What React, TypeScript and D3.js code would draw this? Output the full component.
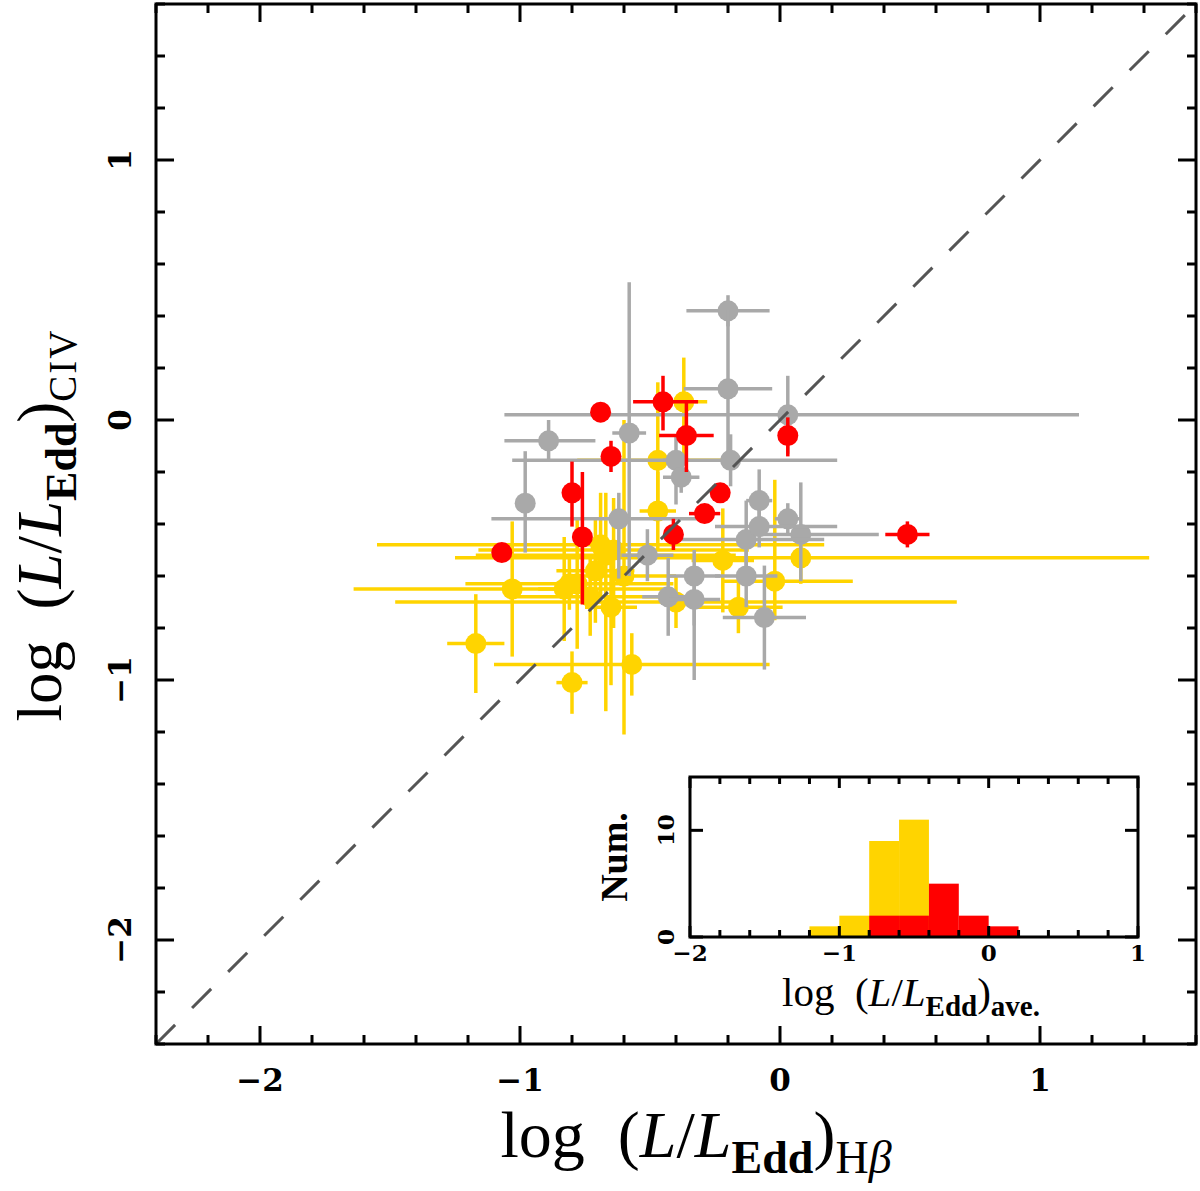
import React from "react";
import * as d3 from "d3";

// [x, y, xErrMinus, xErrPlus, yErrMinus, yErrPlus]
const grayPoints: number[][] = [
  [-0.20, 0.42, 0.16, 0.16, 0.06, 0.06],
  [-0.20, 0.12, 0.17, 0.17, 0.30, 0.30],
  [0.03, 0.02, 1.09, 1.12, 0.15, 0.15],
  [-0.89, -0.08, 0.17, 0.18, 0.08, 0.08],
  [-0.58, -0.05, 0.065, 0.065, 0.55, 0.58],
  [-0.98, -0.32, 0.03, 0.03, 0.19, 0.20],
  [-0.62, -0.38, 0.49, 0.30, 0.23, 0.10],
  [-0.19, -0.155, 0.84, 0.41, 0.10, 0.10],
  [-0.40, -0.155, 0.05, 0.05, 0.17, 0.10],
  [-0.38, -0.22, 0.07, 0.07, 0.06, 0.04],
  [-0.08, -0.31, 0.05, 0.05, 0.08, 0.12],
  [0.03, -0.38, 0.05, 0.05, 0.06, 0.06],
  [0.08, -0.44, 0.20, 0.30, 0.18, 0.20],
  [-0.13, -0.46, 0.25, 0.30, 0.15, 0.15],
  [-0.08, -0.41, 0.17, 0.30, 0.08, 0.08],
  [-0.51, -0.52, 0.10, 0.10, 0.10, 0.10],
  [-0.33, -0.60, 0.10, 0.10, 0.40, 0.10],
  [-0.43, -0.68, 0.10, 0.12, 0.15, 0.15],
  [-0.33, -0.69, 0.10, 0.10, 0.10, 0.10],
  [-0.13, -0.60, 0.12, 0.12, 0.12, 0.12],
  [-0.06, -0.76, 0.16, 0.16, 0.20, 0.20],
];

const yellowPoints: number[][] = [
  [-0.37, 0.07, 0.09, 0.09, 0.23, 0.17],
  [-0.47, -0.155, 0.31, 0.31, 0.20, 0.30],
  [-0.47, -0.35, 0.07, 0.07, 0.15, 0.15],
  [-1.03, -0.65, 0.61, 0.61, 0.26, 0.26],
  [-0.83, -0.65, 0.10, 0.10, 0.20, 0.20],
  [-1.17, -0.86, 0.11, 0.11, 0.19, 0.19],
  [-0.80, -1.01, 0.06, 0.06, 0.12, 0.12],
  [-0.57, -0.94, 0.53, 0.53, 0.12, 0.12],
  [-0.69, -0.48, 0.86, 0.86, 0.20, 0.20],
  [-0.78, -0.63, 0.05, 0.05, 0.25, 0.25],
  [-0.65, -0.72, 0.10, 0.10, 0.30, 0.20],
  [-0.22, -0.54, 0.12, 0.12, 0.20, 0.20],
  [0.08, -0.53, 1.33, 1.34, 0.10, 0.10],
  [-0.02, -0.62, 0.20, 0.30, 0.15, 0.39],
  [-0.40, -0.70, 1.08, 1.08, 0.10, 0.10],
  [-0.16, -0.72, 0.17, 0.17, 0.10, 0.10],
  [-0.67, -0.52, 0.50, 0.50, 0.60, 0.24],
  [-0.60, -0.60, 0.20, 0.20, 0.61, 0.60],
  [-0.73, -0.68, 0.30, 0.30, 0.15, 0.15],
  [-0.64, -0.50, 0.52, 0.52, 0.30, 0.20],
  [-0.81, -0.63, 0.40, 0.40, 0.10, 0.10],
  [-0.71, -0.58, 0.15, 0.15, 0.20, 0.20],
];

const redPoints: number[][] = [
  [-0.69, 0.03, 0.02, 0.02, 0.02, 0.02],
  [-0.45, 0.07, 0.115, 0.135, 0.11, 0.10],
  [-0.36, -0.06, 0.105, 0.105, 0.14, 0.13],
  [-0.65, -0.14, 0.02, 0.02, 0.06, 0.06],
  [-0.80, -0.28, 0.02, 0.02, 0.13, 0.12],
  [-0.76, -0.45, 0.02, 0.02, 0.26, 0.25],
  [-1.07, -0.51, 0.02, 0.02, 0.03, 0.03],
  [-0.23, -0.28, 0.02, 0.02, 0.02, 0.02],
  [-0.29, -0.36, 0.06, 0.06, 0.02, 0.02],
  [-0.41, -0.44, 0.02, 0.02, 0.06, 0.06],
  [0.03, -0.06, 0.02, 0.02, 0.08, 0.07],
  [0.49, -0.44, 0.085, 0.085, 0.05, 0.05],
];

const mainTicks = [-2, -1, 0, 1];
const mainTickLabels = ["\u22122", "\u22121", "0", "1"];

const histBinWidth = 0.2;
const yellowBinStarts = [-1.2, -1.0, -0.8, -0.6];
const yellowCounts = [1, 2, 9, 11];
const redBinStarts = [-0.8, -0.6, -0.4, -0.2, 0.0];
const redCounts = [2, 2, 5, 2, 1];
const insetXTicks = [-2, -1, 0, 1];
const insetXTickLabels = ["\u22122", "\u22121", "0", "1"];
const insetYTicks = [0, 10];
const insetYTickLabels = ["0", "10"];

const GOLD = "#FFD400";
const GRAY = "#A9A9A9";
const RED = "#FF0000";

const SERIF = "'Liberation Serif', 'Times New Roman', serif";
const TICKFONT = "'DejaVu Serif', serif";

export default function App() {
  const x = d3.scaleLinear().domain([-2.4, 1.6]).range([156, 1196]);
  const y = d3.scaleLinear().domain([-2.4, 1.6]).range([1044, 4]);

  const ix = d3.scaleLinear().domain([-2, 1]).range([690, 1138]);
  const iy = d3.scaleLinear().domain([0, 15]).range([937, 777]);

  const minorTicks = d3.range(-24, 17, 2).map((v) => v / 10);

  const renderSeries = (pts: number[][], color: string, key: string) => (
    <g key={key}>
      {pts.map((p, i) => (
        <g key={i}>
          <line x1={x(p[0] - p[2])} x2={x(p[0] + p[3])} y1={y(p[1])} y2={y(p[1])} stroke={color} strokeWidth={3.5} />
          <line x1={x(p[0])} x2={x(p[0])} y1={y(p[1] - p[4])} y2={y(p[1] + p[5])} stroke={color} strokeWidth={3.5} />
          <circle cx={x(p[0])} cy={y(p[1])} r={10.5} fill={color} />
        </g>
      ))}
    </g>
  );

  const x0 = x.range()[0], x1 = x.range()[1];
  const y0 = y.range()[1], y1 = y.range()[0];

  const ixl = ix.range()[0], ixr = ix.range()[1];
  const iyt = iy.range()[1], iyb = iy.range()[0];
  const insetMinor = d3.range(-20, 11, 2).map((v) => v / 10);

  const diag = d3.line<number>().x((d) => x(d)).y((d) => y(d));

  return (
    <svg width={1200} height={1191} style={{ position: "absolute", left: 0, top: 0, background: "#fff" }}>
      <rect x={0} y={0} width={1200} height={1191} fill="#fff" />
      {renderSeries(yellowPoints, GOLD, "yellow")}
      {renderSeries(grayPoints, GRAY, "gray")}
      {renderSeries(redPoints, RED, "red")}
      <path d={diag([-2.4, 1.6]) || ""} stroke="#555" strokeWidth={3} strokeDasharray="27 24" fill="none" />

      {/* main ticks */}
      {minorTicks.map((t, i) => {
        const major = mainTicks.some((m) => Math.abs(m - t) < 1e-6);
        const L = major ? 18 : 9;
        return (
          <g key={"t" + i} stroke="#000" strokeWidth={3}>
            <line x1={x(t)} x2={x(t)} y1={y1} y2={y1 - L} />
            <line x1={x(t)} x2={x(t)} y1={y0} y2={y0 + L} />
            <line x1={x0} x2={x0 + L} y1={y(t)} y2={y(t)} />
            <line x1={x1} x2={x1 - L} y1={y(t)} y2={y(t)} />
          </g>
        );
      })}
      <rect x={x0} y={y0} width={x1 - x0} height={y1 - y0} fill="none" stroke="#000" strokeWidth={3} />

      {mainTicks.map((t, i) => (
        <text key={"xl" + i} x={x(t)} y={1091} textAnchor="middle" fontFamily={TICKFONT} fontWeight="bold" fontSize={31}>
          {mainTickLabels[i]}
        </text>
      ))}
      {mainTicks.map((t, i) => (
        <text key={"yl" + i} transform={`translate(131,${y(t)}) rotate(-90)`} textAnchor="middle" fontFamily={TICKFONT} fontWeight="bold" fontSize={31}>
          {mainTickLabels[i]}
        </text>
      ))}

      {/* x axis label */}
      <text x={696} y={1157} textAnchor="middle" fontFamily={SERIF} fontSize={66} xmlSpace="preserve">
        {"log  ("}
        <tspan fontStyle="italic">L</tspan>
        {"/"}
        <tspan fontStyle="italic">L</tspan>
        <tspan fontWeight="bold" fontSize={46} dy={16}>Edd</tspan>
        <tspan dy={-16}>)</tspan>
        <tspan fontSize={46} dy={16}>H</tspan>
        <tspan fontSize={46} fontStyle="italic">β</tspan>
      </text>

      {/* y axis label */}
      <text transform="translate(61,525) rotate(-90)" textAnchor="middle" fontFamily={SERIF} fontSize={63} xmlSpace="preserve">
        {"log  ("}
        <tspan fontStyle="italic">L</tspan>
        {"/"}
        <tspan fontStyle="italic">L</tspan>
        <tspan fontWeight="bold" fontSize={44} dy={15}>Edd</tspan>
        <tspan dy={-15}>)</tspan>
        <tspan fontSize={39} dy={15} letterSpacing={2}>CIV</tspan>
      </text>

      {/* inset */}
      <rect x={ixl} y={iyt} width={ixr - ixl} height={iyb - iyt} fill="#fff" />
      {yellowBinStarts.map((b, i) => (
        <rect key={"yb" + i} x={ix(b)} y={iy(yellowCounts[i])} width={ix(b + histBinWidth) - ix(b)} height={iy(0) - iy(yellowCounts[i])} fill={GOLD} />
      ))}
      {redBinStarts.map((b, i) => (
        <rect key={"rb" + i} x={ix(b)} y={iy(redCounts[i])} width={ix(b + histBinWidth) - ix(b)} height={iy(0) - iy(redCounts[i])} fill={RED} />
      ))}
      {insetMinor.map((t, i) => {
        const major = insetXTicks.some((m) => Math.abs(m - t) < 1e-6);
        const L = major ? 11 : 7;
        return (
          <g key={"it" + i} stroke="#000" strokeWidth={3}>
            <line x1={ix(t)} x2={ix(t)} y1={iyb} y2={iyb - L} />
            <line x1={ix(t)} x2={ix(t)} y1={iyt} y2={iyt + L} />
          </g>
        );
      })}
      {insetYTicks.map((t, i) => (
        <g key={"iyt" + i} stroke="#000" strokeWidth={3}>
          <line x1={ixl} x2={ixl + 13} y1={iy(t)} y2={iy(t)} />
          <line x1={ixr} x2={ixr - 13} y1={iy(t)} y2={iy(t)} />
        </g>
      ))}
      <rect x={ixl} y={iyt} width={ixr - ixl} height={iyb - iyt} fill="none" stroke="#000" strokeWidth={3} />
      {insetXTicks.map((t, i) => (
        <text key={"ixl" + i} x={ix(t)} y={961} textAnchor="middle" fontFamily={TICKFONT} fontWeight="bold" fontSize={23}>
          {insetXTickLabels[i]}
        </text>
      ))}
      {insetYTicks.map((t, i) => (
        <text key={"iyl" + i} transform={`translate(674,${iy(t)}) rotate(-90)`} textAnchor="middle" fontFamily={TICKFONT} fontWeight="bold" fontSize={23}>
          {insetYTickLabels[i]}
        </text>
      ))}
      <text transform={`translate(627,857) rotate(-90)`} textAnchor="middle" fontFamily={SERIF} fontWeight="bold" fontSize={38}>
        Num.
      </text>
      <text x={911} y={1006} textAnchor="middle" fontFamily={SERIF} fontSize={41} xmlSpace="preserve">
        {"log  ("}
        <tspan fontStyle="italic">L</tspan>
        {"/"}
        <tspan fontStyle="italic">L</tspan>
        <tspan fontWeight="bold" fontSize={29} dy={10}>Edd</tspan>
        <tspan dy={-10}>)</tspan>
        <tspan fontWeight="bold" fontSize={29} dy={10}>ave.</tspan>
      </text>
    </svg>
  );
}
